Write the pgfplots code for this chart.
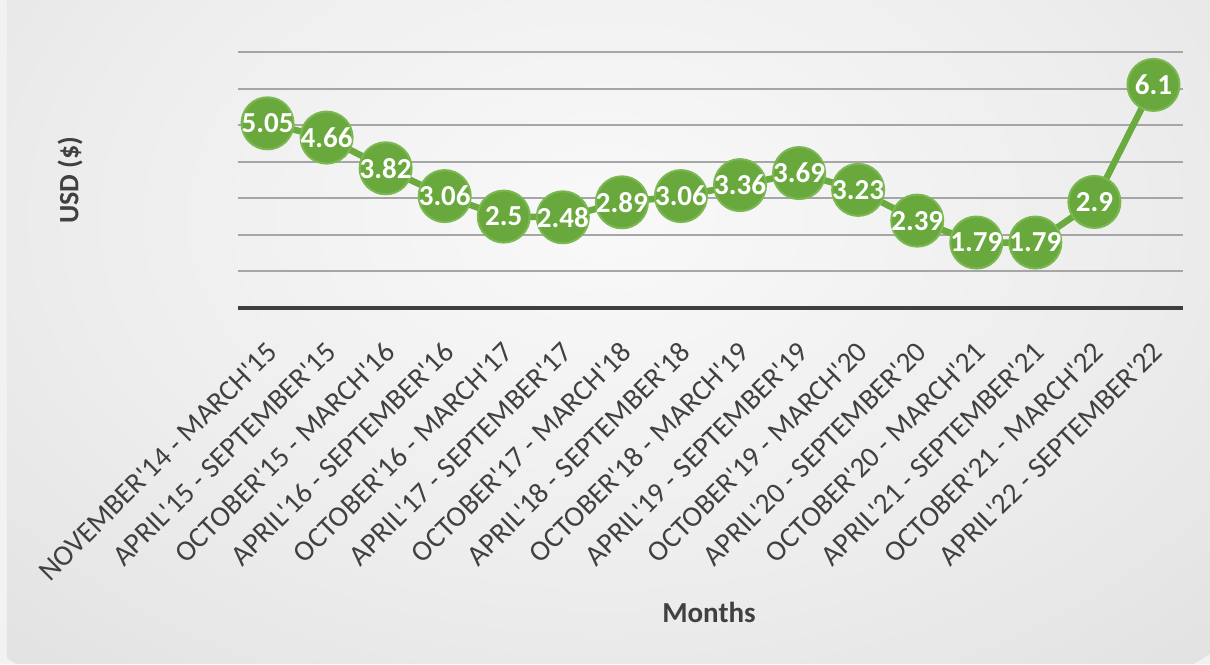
\documentclass[border=0pt]{standalone}
\usepackage{pgfplots}
\pgfplotsset{compat=1.18}
\usepackage{fontspec}
\setmainfont{Carlito}
\definecolor{mkgreen}{HTML}{68A83C}
\definecolor{mkedge}{HTML}{7BB852}
\definecolor{lngreen}{HTML}{6AAA3E}
\definecolor{gridc}{HTML}{A6A6A6}
\definecolor{axdark}{HTML}{3F3F3F}
\definecolor{txt}{HTML}{404040}
\definecolor{bgA}{HTML}{F9F9F9}
\definecolor{bgB}{HTML}{EDEDED}
\definecolor{bgC}{HTML}{DDDDDD}
\definecolor{bgD}{HTML}{D0D0D0}
\definecolor{bgE}{HTML}{BEBEBE}
\pgfdeclareradialshading{bgshade}{\pgfpoint{0bp}{0bp}}{color(0bp)=(bgA); color(15bp)=(bgB); color(30bp)=(bgC); color(40bp)=(bgD); color(50bp)=(bgE)}
\newcommand{\ap}{\textquotesingle}
\begin{document}
\begin{tikzpicture}
\fill[white!95!black] (-238pt,-356pt) rectangle (972pt,308pt);
\begin{scope}
\clip (-231pt,-355pt) rectangle (972pt,308pt);
\shade[shading=bgshade] (367pt,90pt) ellipse (880pt and 600pt);
\end{scope}
\begin{axis}[
  at={(0pt,0pt)}, anchor=south west,
  scale only axis, width=945pt, height=256pt,
  xmin=-0.5, xmax=15.5, ymin=0, ymax=7,
  axis line style={draw=none},
  ytick={0,1,...,7}, yticklabels={},
  ymajorgrids, grid style={gridc, line width=2pt},
  major tick length=0pt,
  xtick={0,1,...,15},
  xticklabels={
    {NOVEMBER\ap14 - MARCH\ap15},
    {APRIL\ap15 - SEPTEMBER\ap15},
    {OCTOBER\ap15 - MARCH\ap16},
    {APRIL\ap16 - SEPTEMBER\ap16},
    {OCTOBER\ap16 - MARCH\ap17},
    {APRIL\ap17 - SEPTEMBER\ap17},
    {OCTOBER\ap17 - MARCH\ap18},
    {APRIL\ap18 - SEPTEMBER\ap18},
    {OCTOBER\ap18 - MARCH\ap19},
    {APRIL\ap19 - SEPTEMBER\ap19},
    {OCTOBER\ap19 - MARCH\ap20},
    {APRIL\ap20 - SEPTEMBER\ap20},
    {OCTOBER\ap20 - MARCH\ap21},
    {APRIL\ap21 - SEPTEMBER\ap21},
    {OCTOBER\ap21 - MARCH\ap22},
    {APRIL\ap22 - SEPTEMBER\ap22}},
  xticklabel style={font=\fontsize{29}{31}\selectfont, text=txt, inner sep=0pt,
    xshift=-3pt, yshift=-32pt, rotate=45, anchor=north east},
  clip=false,
  point meta=explicit symbolic,
  nodes near coords,
  every node near coord/.append style={anchor=center, inner sep=0pt,
    font=\bfseries\fontsize{29}{30}\selectfont, text=white},
]
\draw[line width=3.5pt, axdark] (axis cs:-0.5,0) -- (axis cs:15.5,0);
\addplot[lngreen, line width=6.5pt, mark=*, mark size=26pt,
  mark options={fill=mkgreen, draw=mkedge, line width=2pt}]
coordinates {
(0,5.05) [5.05]
(1,4.66) [4.66]
(2,3.82) [3.82]
(3,3.06) [3.06]
(4,2.5) [2.5]
(5,2.48) [2.48]
(6,2.89) [2.89]
(7,3.06) [3.06]
(8,3.36) [3.36]
(9,3.69) [3.69]
(10,3.23) [3.23]
(11,2.39) [2.39]
(12,1.79) [1.79]
(13,1.79) [1.79]
(14,2.9) [2.9]
(15,6.1) [6.1]
};
\end{axis}
\node[rotate=90, font=\bfseries\fontsize{28}{30}\selectfont, text=txt] at (-168pt,128pt) {USD (\$)};
\node[font=\bfseries\fontsize{29}{30}\selectfont, text=txt] at (471pt,-304pt) {Months};
\end{tikzpicture}
\end{document}
